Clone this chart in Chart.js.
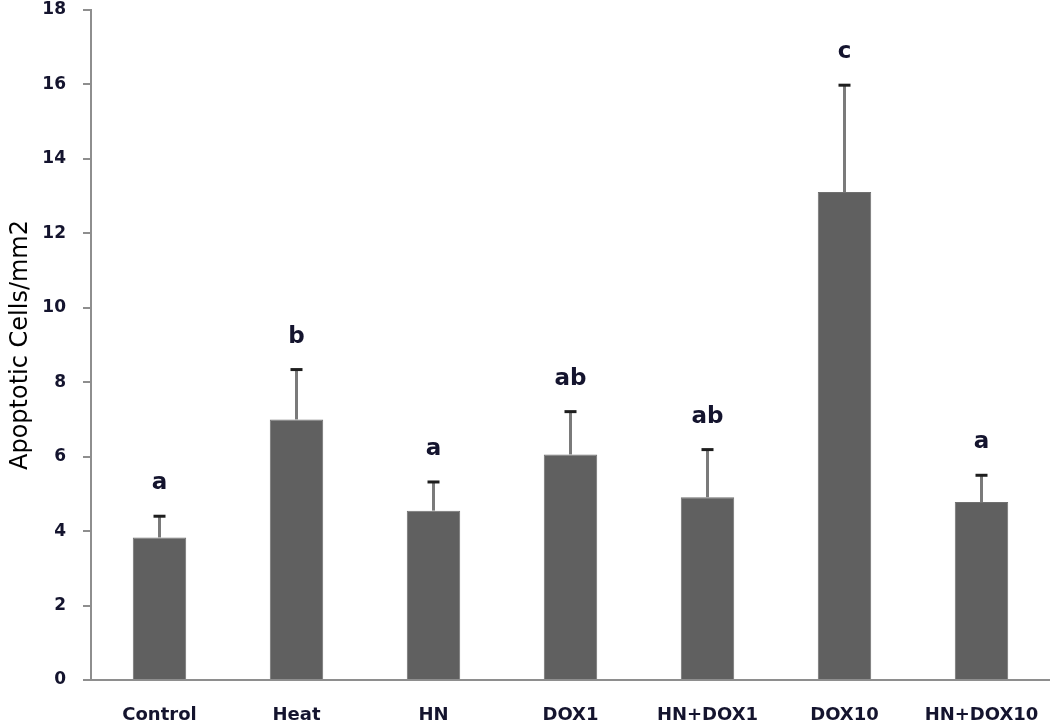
<!DOCTYPE html>
<html>
<head>
<meta charset="utf-8">
<script src="https://cdn.jsdelivr.net/npm/chart.js@4.4.1/dist/chart.umd.min.js"></script>
<style>
  html, body { margin: 0; padding: 0; background: #fff; }
  #wrap { width: 1050px; height: 722px; }
</style>
</head>
<body>
<div id="wrap"><canvas id="chart"></canvas></div>
<script>
// groups on the x axis
const groups = ['Control', 'Heat', 'HN', 'DOX1', 'HN+DOX1', 'DOX10', 'HN+DOX10'];
// mean apoptotic cells / mm2
const means = [3.83, 7.0, 4.55, 6.06, 4.91, 13.11, 4.78];
// upper error (SD / SEM)
const errs = [0.57, 1.34, 0.77, 1.15, 1.28, 2.87, 0.72];
// significance letters
const sigLetters = ['a', 'b', 'a', 'ab', 'ab', 'c', 'a'];
// y axis range
const yMin = 0, yMax = 18, yStep = 2;

const axisGrey = '#8e8e8e';
const textDark = '#14142e';

// draws error bars + the letters above them
const errorBarPlugin = {
    id: 'errorBars',
    afterDatasetsDraw(chart){
        const ctx = chart.ctx;
        const y = chart.scales.y;
        const meta = chart.getDatasetMeta(0);
        ctx.save();
        meta.data.forEach((bar, i) => {
            const top = y.getPixelForValue(means[i] + errs[i]);
            // stem
            ctx.strokeStyle = '#7a7a7a';
            ctx.lineWidth = 3;
            ctx.beginPath();
            ctx.moveTo(bar.x, bar.y);
            ctx.lineTo(bar.x, top);
            ctx.stroke();
            // cap
            ctx.strokeStyle = '#1e1e1e';
            ctx.lineWidth = 3;
            ctx.beginPath();
            ctx.moveTo(bar.x - 6, top);
            ctx.lineTo(bar.x + 6, top);
            ctx.stroke();
            // letter
            ctx.fillStyle = textDark;
            ctx.font = 'bold 23px "DejaVu Sans"';
            ctx.textAlign = 'center';
            ctx.textBaseline = 'alphabetic';
            ctx.fillText(sigLetters[i], bar.x, top - 27);
        });
        ctx.restore();
    }
};

new Chart(document.getElementById('chart'), {
    type: 'bar',
    data: {
        labels: groups,
        datasets: [{
            data: means,
            backgroundColor: '#606060',
            borderColor: '#707070',
            borderWidth: 1,
            categoryPercentage: 1,
            barPercentage: 0.39
        }]
    },
    options: {
        responsive: true,
        maintainAspectRatio: false,
        animation: false,
        layout: { padding: { top: 10, right: 0, bottom: 0, left: 0 } },
        plugins: {
            legend: { display: false },
            tooltip: { enabled: false }
        },
        scales: {
            x: {
                afterFit(scale){
                    scale.height = 42;
                    scale.paddingLeft = 0;
                    scale.paddingRight = 0;
                },
                grid: { display: false },
                border: { color: axisGrey, width: 2 },
                ticks: {
                    color: textDark,
                    padding: 17,
                    maxRotation: 0,
                    autoSkip: false,
                    font: { family: '"DejaVu Sans"', size: 18, weight: 'bold' }
                }
            },
            y: {
                min: yMin,
                max: yMax,
                afterFit(scale){
                    scale.width = 91;
                    scale.paddingTop = 0;
                    scale.paddingBottom = 0;
                },
                grid: {
                    drawOnChartArea: false,
                    drawTicks: true,
                    tickLength: 8,
                    color: axisGrey,
                    lineWidth: 2
                },
                border: { color: axisGrey, width: 2 },
                ticks: {
                    stepSize: yStep,
                    color: textDark,
                    padding: 17,
                    font: { family: '"DejaVu Sans"', size: 17, weight: 'bold' }
                },
                title: {
                    display: true,
                    text: 'Apoptotic Cells/mm2',
                    color: '#000',
                    padding: { top: 6, bottom: 0 },
                    font: { family: '"DejaVu Sans"', size: 24, weight: 'normal' }
                }
            }
        }
    },
    plugins: [errorBarPlugin]
});
</script>
</body>
</html>
